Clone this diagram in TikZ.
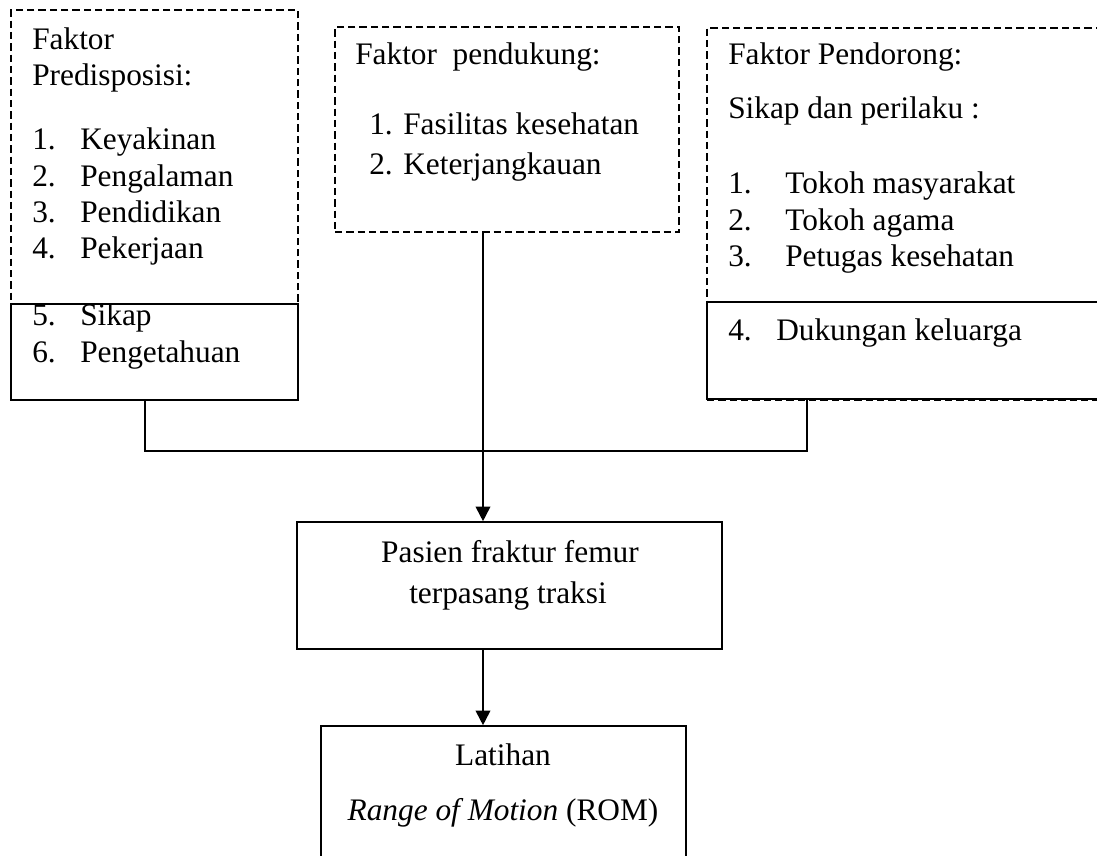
\documentclass[tikz,border=0pt]{standalone}
\usepackage{fontspec}
\setmainfont{Liberation Serif}
\usetikzlibrary{fit,arrows.meta}
\begin{document}
\begin{tikzpicture}[x=0.75pt,y=-0.75pt,
  txt/.style={anchor=base west,inner sep=0pt,font=\fontsize{23.5pt}{27pt}\selectfont},
  ctxt/.style={anchor=base,inner sep=0pt,font=\fontsize{23.5pt}{27pt}\selectfont},
  dbox/.style={draw,line width=1.2pt,dash pattern=on 5.5pt off 3pt,inner sep=0pt},
  sbox/.style={draw,line width=1.2pt,inner sep=0pt},
  conn/.style={line width=1.3pt},
  arr/.style={line width=1.3pt,-{Triangle[width=11pt,length=11pt]}}]
\useasboundingbox (0,0) rectangle (1097,856);
\clip (0,0) rectangle (1097,856);
% boxes
\node[dbox,fit={(11,10) (298,400)}] (L) {};
\node[sbox,fit={(11,304) (298,400)}] (L2) {};
\node[dbox,fit={(335,27) (679,232)}] (M) {};
\node[dbox,fit={(707,28) (1110,400)}] (R) {};
\node[sbox,fit={(707,302) (1110,399)}] (R2) {};
\node[sbox,fit={(297,522) (722,649)}] (P) {};
\node[sbox,fit={(321,726) (686,900)}] (Q) {};
% left texts
\node[txt] (l1) at (32,50) {Faktor};
\node[txt] (l2) at (32,86) {Predisposisi:};
\node[txt] (l3n) at (32,150) {1.};
\node[txt] (l3) at (80,150) {Keyakinan};
\node[txt] (l4n) at (32,186) {2.};
\node[txt] (l4) at (80,186) {Pengalaman};
\node[txt] (l5n) at (32,222) {3.};
\node[txt] (l5) at (80,222) {Pendidikan};
\node[txt] (l6n) at (32,258) {4.};
\node[txt] (l6) at (80,258) {Pekerjaan};
\node[txt] (l7n) at (32,325) {5.};
\node[txt] (l7) at (80,325) {Sikap};
\node[txt] (l8n) at (32,362) {6.};
\node[txt] (l8) at (80,362) {Pengetahuan};
% middle texts
\node[txt] (m1) at (355,65) {Faktor\ \ pendukung:};
\node[txt] (m2n) at (369,135) {1.};
\node[txt] (m2) at (403,135) {Fasilitas kesehatan};
\node[txt] (m3n) at (369,175) {2.};
\node[txt] (m3) at (403,175) {Keterjangkauan};
% right texts
\node[txt] (r1) at (728,65) {Faktor Pendorong:};
\node[txt] (r2) at (728,118) {Sikap dan perilaku :};
\node[txt] (r3n) at (728,193) {1.};
\node[txt] (r3) at (785,193) {Tokoh masyarakat};
\node[txt] (r4n) at (728,230) {2.};
\node[txt] (r4) at (785,230) {Tokoh agama};
\node[txt] (r5n) at (728,266) {3.};
\node[txt] (r5) at (785,266) {Petugas kesehatan};
\node[txt] (r6n) at (728,340) {4.};
\node[txt] (r6) at (776,340) {Dukungan keluarga};
% center texts
\node[ctxt] (p1) at (510,562) {Pasien fraktur femur};
\node[ctxt] (p2) at (508,603) {terpasang traksi};
\node[ctxt] (q1) at (503,765) {Latihan};
\node[ctxt] (q2) at (503,820) {\textit{Range of Motion} (ROM)};
% connectors
\coordinate (jl) at (145,451);
\coordinate (jr) at (807,451);
\coordinate (ax) at (483,451);
\draw[conn] (L2.south -| jl) -- (jl) -- (jr) -- (R2.south -| jr);
\draw[arr] (M.south -| ax) -- (P.north -| ax);
\draw[arr] (P.south -| ax) -- (Q.north -| ax);
\end{tikzpicture}
\end{document}
